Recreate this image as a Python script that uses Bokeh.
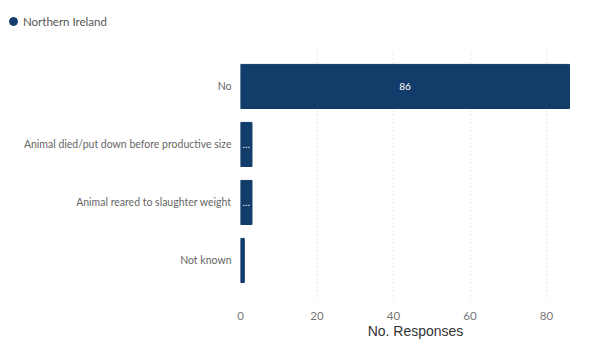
from bokeh.plotting import figure
from bokeh.layouts import column
from bokeh.models import (Range1d, FixedTicker, ColumnDataSource, Legend, LegendItem)
from bokeh.core.properties import value
from bokeh.embed import file_html
from bokeh.resources import INLINE

categories = ["No", "Animal died/put down before productive size",
              "Animal reared to slaughter weight", "Not known"]
responses = [86, 3, 3, 1]
bar_labels = ["86", "\u2026", "\u2026", ""]
series_name = "Northern Ireland"
x_ticks = [0, 20, 40, 60, 80]

BAR = "#123D6A"
FONT = "Lato"

pos = list(range(len(categories)))
src = ColumnDataSource(dict(y=pos, v=responses, mid=[r / 2 for r in responses],
                            lab=bar_labels))

# ---- legend strip ----
lg = figure(width=602, height=40, output_backend="svg", toolbar_location=None,
            x_range=Range1d(0, 1), y_range=Range1d(0, 1), min_border=0)
lg.frame_align = False
lg.outline_line_color = None
lg.axis.visible = False
lg.grid.visible = False
# series key marker (kept outside the visible range of this strip)
dummy = lg.scatter(x=[responses[0]], y=[responses[0]], marker="circle", size=9,
                   fill_color=BAR, line_color=BAR)
legend = Legend(items=[LegendItem(label=series_name, renderers=[dummy])],
                location=(3, 9), orientation="horizontal",
                glyph_width=20, glyph_height=20, label_standoff=-6, padding=0,
                margin=0, border_line_color=None, background_fill_alpha=0,
                label_text_font=FONT, label_text_font_size="11.5px",
                label_text_color="#555555", label_height=20)
lg.add_layout(legend, "center")

# ---- main chart ----
p = figure(width=602, height=310, output_backend="svg", toolbar_location=None,
           x_range=Range1d(0, 91.5), y_range=Range1d(3.69, -0.62),
           min_border_left=240, min_border_right=12, min_border_top=10,
           min_border_bottom=50)
p.frame_align = False
p.outline_line_color = None

p.hbar(y="y", right="v", left=0, height=0.76, source=src, fill_color=BAR,
       line_color=BAR)
p.text(x="mid", y="y", text="lab", source=src, text_color="white",
       text_align="center", text_baseline="middle", text_font_size="10px",
       text_font=value(FONT))

# X axis
p.xaxis.ticker = FixedTicker(ticks=x_ticks)
p.xaxis.axis_label = "No. Responses"
p.xaxis.axis_label_text_font = "Liberation Sans"
p.xaxis.axis_label_text_font_style = "normal"
p.xaxis.axis_label_text_font_size = "14px"
p.xaxis.axis_label_text_color = "#333333"
p.xaxis.axis_label_standoff = 0
p.xaxis.major_label_text_font = FONT
p.xaxis.major_label_text_font_size = "11.5px"
p.xaxis.major_label_text_color = "#777777"
p.xaxis.major_label_standoff = 5
p.xaxis.axis_line_color = None
p.xaxis.major_tick_line_color = None
p.xaxis.minor_tick_line_color = None

# Y axis
p.yaxis.ticker = FixedTicker(ticks=pos)
p.yaxis.major_label_overrides = {i: c for i, c in enumerate(categories)}
p.yaxis.major_label_text_font = FONT
p.yaxis.major_label_text_font_size = "10.5px"
p.yaxis.major_label_text_color = "#666666"
p.yaxis.major_label_standoff = 3
p.yaxis.axis_line_color = None
p.yaxis.major_tick_line_color = None
p.yaxis.minor_tick_line_color = None

p.xgrid.ticker = FixedTicker(ticks=x_ticks)
p.xgrid.grid_line_color = "#cfcfcf"
p.xgrid.grid_line_dash = "1 3"
p.ygrid.grid_line_color = None

layout = column(lg, p, spacing=0)
open("out.html", "w").write(file_html(layout, INLINE))
